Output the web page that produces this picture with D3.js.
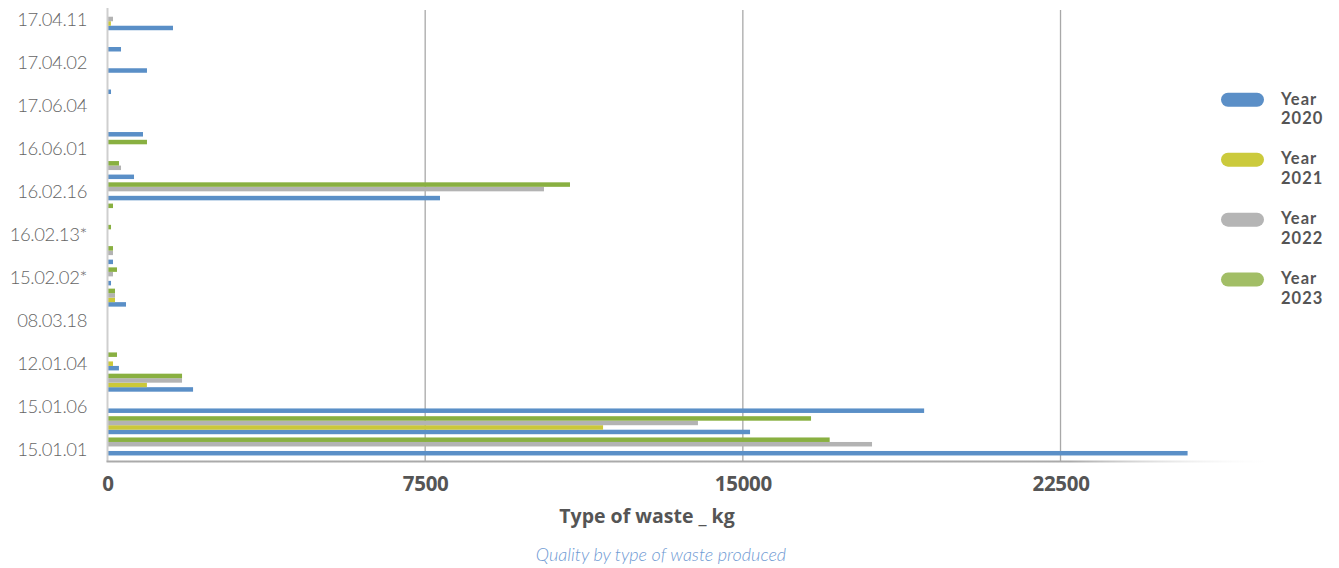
<!DOCTYPE html>
<html>
<head>
<meta charset="utf-8">
<script src="https://cdn.jsdelivr.net/npm/d3@7/dist/d3.min.js"></script>
<style>
  html, body { margin: 0; padding: 0; background: #fff; }
  svg { display: block; }
</style>
</head>
<body>
<script>
// ---- DATA ----
// Category labels shown on the axis (bottom to top)
const labels = ['15.01.01', '15.01.06', '12.01.04', '08.03.18', '15.02.02*', '16.02.13*', '16.02.16', '16.06.01', '17.06.04', '17.04.02', '17.04.11'];
// Bar rows (bottom to top), 21 rows
const rows = d3.range(21);
const years = ['2020', '2021', '2022', '2023'];
const v2020 = [25500, 15170, 19280, 2020, 270, 0, 0, 437, 83, 130, 0, 0, 7850, 626, 0, 838, 0, 83, 932, 319, 1546];
const v2021 = [0, 11700, 0, 930, 130, 0, 0, 177, 0, 0, 0, 0, 0, 0, 0, 0, 0, 0, 0, 0, 80];
const v2022 = [18050, 13940, 0, 1760, 0, 0, 0, 177, 130, 130, 0, 0, 10305, 319, 0, 0, 0, 0, 0, 0, 130];
const v2023 = [17050, 16610, 0, 1760, 224, 0, 0, 177, 224, 130, 83, 130, 10919, 271, 932, 0, 0, 0, 0, 0, 0];
const xTicks = [0, 7500, 15000, 22500];
const xTitle = 'Type of waste _ kg';
const caption = 'Quality by type of waste produced';

const series = { '2020': v2020, '2021': v2021, '2022': v2022, '2023': v2023 };
const colors = { '2020': '#5a8fc7', '2021': '#cbc83a', '2022': '#b3b3b3', '2023': '#89b041' };
const legendColors = { '2020': '#5b8fc7', '2021': '#cbca3c', '2022': '#b5b5b5', '2023': '#a2be66' };

// ---- CHART ----
const W = 1339, H = 568;
const svg = d3.select('body').append('svg').attr('width', W).attr('height', H);
svg.append('rect').attr('width', W).attr('height', H).attr('fill', '#fff');

const x = d3.scaleLinear().domain([0, 27500]).range([107.5, 1272.3]);
const y = d3.scaleBand().domain(rows).range([457.1, 10.6]).paddingInner(0.153).paddingOuter(0.0765);
const ySub = d3.scaleBand().domain(['2023', '2022', '2021', '2020']).range([0, y.bandwidth()]);
const yLab = d3.scalePoint().domain(labels).range([450, 19.3]);

const plotTop = 10, plotBottom = 461.5;

// gridlines
svg.append('g').selectAll('line').data(xTicks.filter(d => d > 0)).join('line')
  .attr('x1', d => x(d)).attr('x2', d => x(d))
  .attr('y1', plotTop).attr('y2', plotBottom)
  .attr('stroke', '#a8a8a8').attr('stroke-width', 1.3);

// bars
const flat = [];
rows.forEach(r => years.forEach(yr => flat.push({ row: r, year: yr, value: series[yr][r] })));
svg.append('g').selectAll('rect').data(flat.filter(d => d.value > 0)).join('rect')
  .attr('x', x(0))
  .attr('y', d => y(d.row) + ySub(d.year))
  .attr('width', d => x(d.value) - x(0))
  .attr('height', ySub.bandwidth())
  .attr('fill', d => colors[d.year]);

// left axis line
svg.append('line').attr('x1', 107.5).attr('x2', 107.5).attr('y1', 8).attr('y2', plotBottom)
  .attr('stroke', '#cfcfcf').attr('stroke-width', 2);

// bottom axis line with fade
const defs = svg.append('defs');
const grad = defs.append('linearGradient').attr('id', 'fade').attr('gradientUnits', 'userSpaceOnUse')
  .attr('x1', 1070).attr('x2', 1280).attr('y1', 0).attr('y2', 0);
grad.append('stop').attr('offset', 0).attr('stop-color', '#aaaaaa').attr('stop-opacity', 1);
grad.append('stop').attr('offset', 1).attr('stop-color', '#ffffff').attr('stop-opacity', 0);
svg.append('line').attr('x1', 106.5).attr('x2', 1280).attr('y1', plotBottom).attr('y2', plotBottom)
  .attr('stroke', 'url(#fade)').attr('stroke-width', 2);

// y axis labels
const yAxis = svg.append('g').attr('transform', 'translate(87,0)')
  .call(d3.axisLeft(yLab).tickSize(0).tickPadding(0));
yAxis.select('.domain').remove();
yAxis.selectAll('text')
  .attr('fill', '#666666')
  .style('font-family', 'Lato, "Open Sans", sans-serif')
  .style('font-weight', '300')
  .style('font-size', '18.5px')
  .style('letter-spacing', '-0.4px');

// x axis labels
const xAxis = svg.append('g').attr('transform', `translate(0,${plotBottom})`)
  .call(d3.axisBottom(x).tickValues(xTicks).tickSize(0).tickPadding(15).tickFormat(d3.format('d')));
xAxis.select('.domain').remove();
xAxis.selectAll('text')
  .attr('fill', '#555555')
  .style('font-family', '"Open Sans", Lato, sans-serif')
  .style('font-weight', '700')
  .style('font-size', '20.5px')
  .style('letter-spacing', '-0.3px');

// x axis title
svg.append('text').attr('x', 647).attr('y', 523).attr('text-anchor', 'middle')
  .attr('fill', '#555555')
  .style('font-family', '"Open Sans", Lato, sans-serif')
  .style('font-weight', '700').style('font-size', '19.5px')
  .text(xTitle);

// caption
svg.append('text').attr('x', 661).attr('y', 561).attr('text-anchor', 'middle')
  .attr('fill', '#6f9ad3')
  .style('font-family', 'Lato, "Open Sans", sans-serif')
  .style('font-style', 'italic').style('font-weight', '300').style('font-size', '18px')
  .text(caption);

// legend
const legY = d3.scalePoint().domain(years).range([99.7, 279.6]);
const leg = svg.append('g').selectAll('g').data(years).join('g')
  .attr('transform', d => `translate(0,${legY(d)})`);
leg.append('rect').attr('x', 1221).attr('y', -7).attr('width', 43).attr('height', 14).attr('rx', 7)
  .attr('fill', d => legendColors[d]);
const legendText = (sel, yy, fn) => sel.append('text').attr('x', 1281).attr('y', yy)
  .attr('fill', '#555')
  .style('font-family', 'Lato, "Open Sans", sans-serif')
  .style('font-weight', '700').style('font-size', '16.5px')
  .style('letter-spacing', '1px')
  .text(fn);
legendText(leg, 4.8, () => 'Year');
legendText(leg, 24.8, d => d);
</script>
</body>
</html>
